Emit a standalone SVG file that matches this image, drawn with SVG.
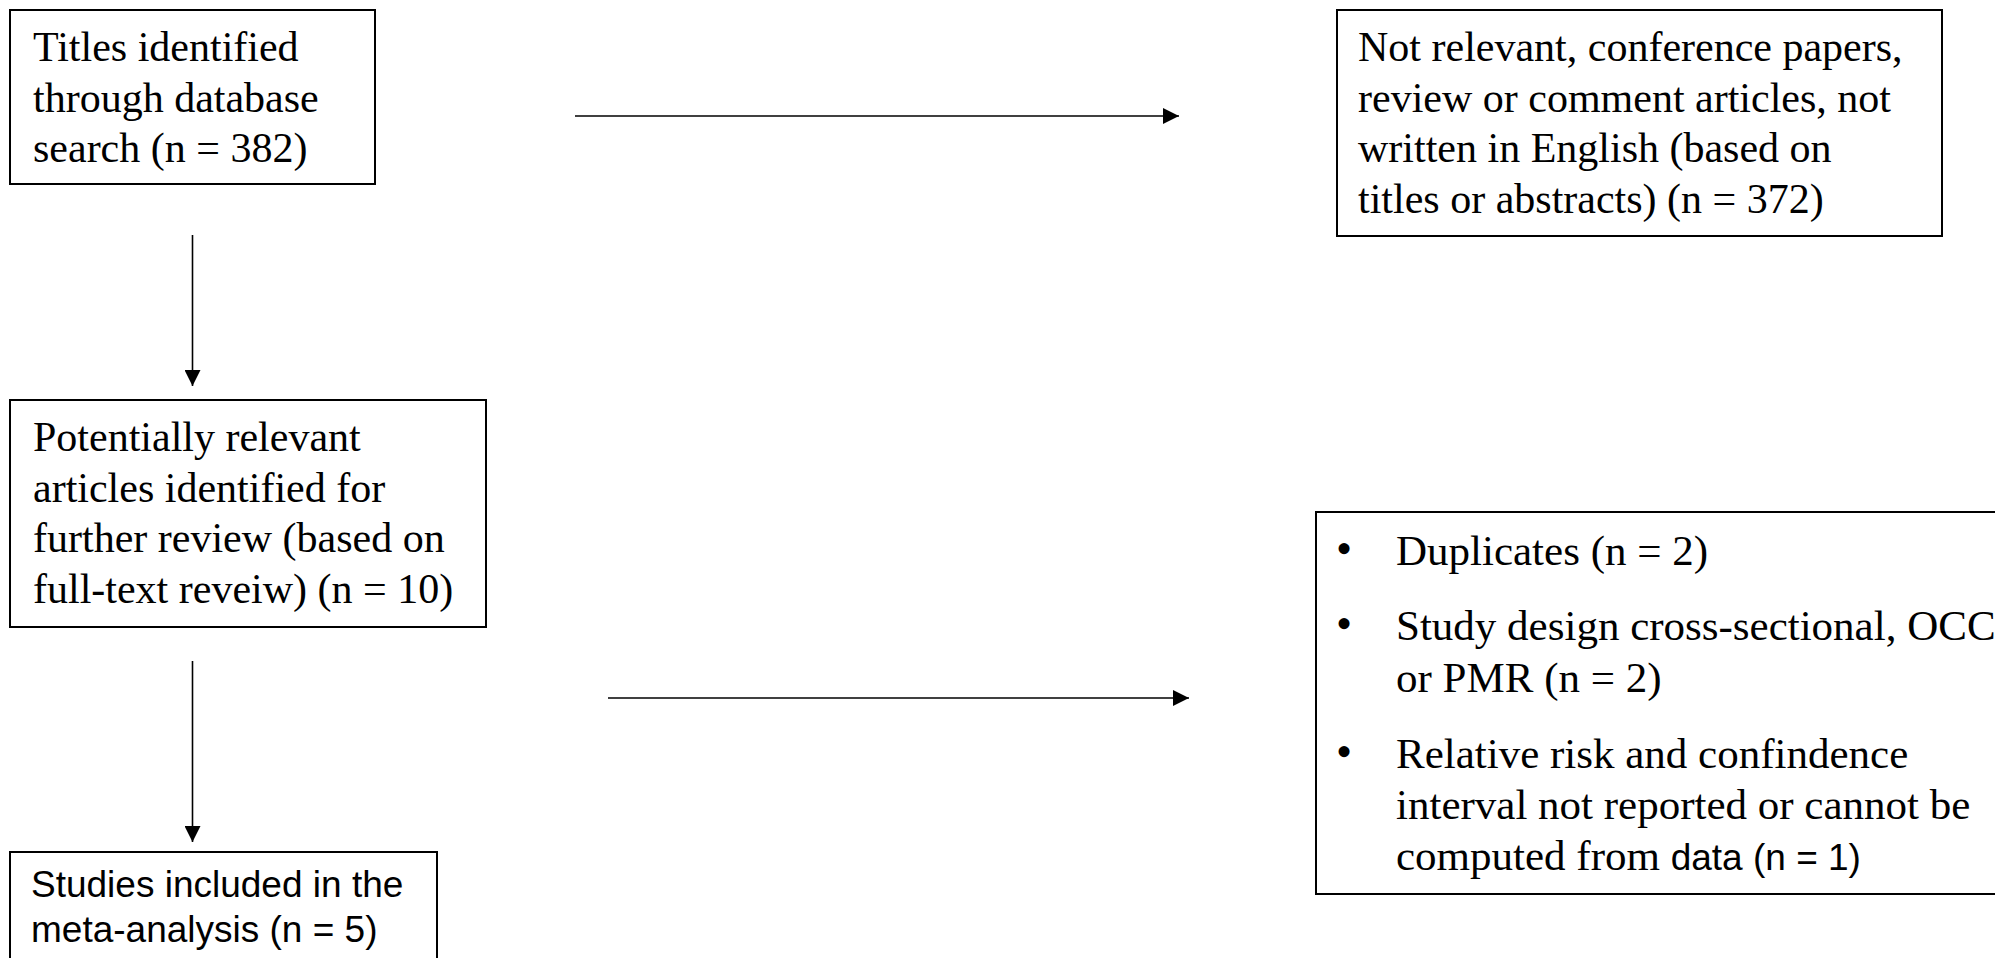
<svg xmlns="http://www.w3.org/2000/svg" width="1995" height="958" viewBox="0 0 1995 958">
<style>
.box{fill:#fff;stroke:#000;stroke-width:2}
.t{font-family:"Liberation Serif","Times New Roman",serif;font-size:42px;fill:#000}
.t5{font-family:"Liberation Serif","Times New Roman",serif;font-size:43px;fill:#000}
.b{font-family:"Liberation Serif","Times New Roman",serif;font-size:46px;fill:#000}
.s{font-family:"Liberation Sans",Arial,sans-serif;font-size:37px;fill:#000}
.c{stroke:#000;stroke-width:1.6;fill:none}
</style>
<defs>
<marker id="arr" markerUnits="userSpaceOnUse" markerWidth="16" markerHeight="16" refX="16" refY="8" orient="auto">
<path d="M0,0 L16,8 L0,16 Z" fill="#000"/>
</marker>
</defs>
<rect width="1995" height="958" fill="#fff"/>
<g id="connectors">
<line class="c" x1="575" y1="116" x2="1179" y2="116" marker-end="url(#arr)"/>
<line class="c" x1="192.5" y1="235" x2="192.5" y2="386" marker-end="url(#arr)"/>
<line class="c" x1="192.5" y1="661" x2="192.5" y2="842" marker-end="url(#arr)"/>
<line class="c" x1="608" y1="698" x2="1189" y2="698" marker-end="url(#arr)"/>
</g>
<g id="n1">
<rect class="box" x="10" y="10" width="365" height="174"/>
<text class="t"><tspan x="33" y="61">Titles identified</tspan><tspan x="33" y="112">through database</tspan><tspan x="33" y="162">search (n = 382)</tspan></text>
</g>
<g id="n2">
<rect class="box" x="1337" y="10" width="605" height="226"/>
<text class="t"><tspan x="1358" y="61">Not relevant, conference papers,</tspan><tspan x="1358" y="112">review or comment articles, not</tspan><tspan x="1358" y="162">written in English (based on</tspan><tspan x="1358" y="213">titles or abstracts) (n = 372)</tspan></text>
</g>
<g id="n3">
<rect class="box" x="10" y="400" width="476" height="227"/>
<text class="t"><tspan x="33" y="451">Potentially relevant</tspan><tspan x="33" y="502">articles identified for</tspan><tspan x="33" y="552">further review (based on</tspan><tspan x="33" y="603">full-text reveiw) (n = 10)</tspan></text>
</g>
<g id="n4">
<rect class="box" x="10" y="852" width="427" height="130"/>
<text class="s"><tspan x="31" y="897">Studies included in the</tspan><tspan x="31" y="942">meta-analysis (n = 5)</tspan></text>
</g>
<g id="n5">
<rect class="box" x="1316" y="512" width="720" height="382"/>
<text class="b" x="1336" y="564">•</text>
<text class="b" x="1336" y="639">•</text>
<text class="b" x="1336" y="767">•</text>
<text class="t5"><tspan x="1396" y="565">Duplicates (n = 2)</tspan><tspan x="1396" y="640">Study design cross-sectional, OCC</tspan><tspan x="1396" y="692">or PMR (n = 2)</tspan><tspan x="1396" y="768">Relative risk and confindence</tspan><tspan x="1396" y="819">interval not reported or cannot be</tspan><tspan x="1396" y="870">computed from <tspan class="s">data (n = 1)</tspan></tspan></text>
</g>
</svg>
